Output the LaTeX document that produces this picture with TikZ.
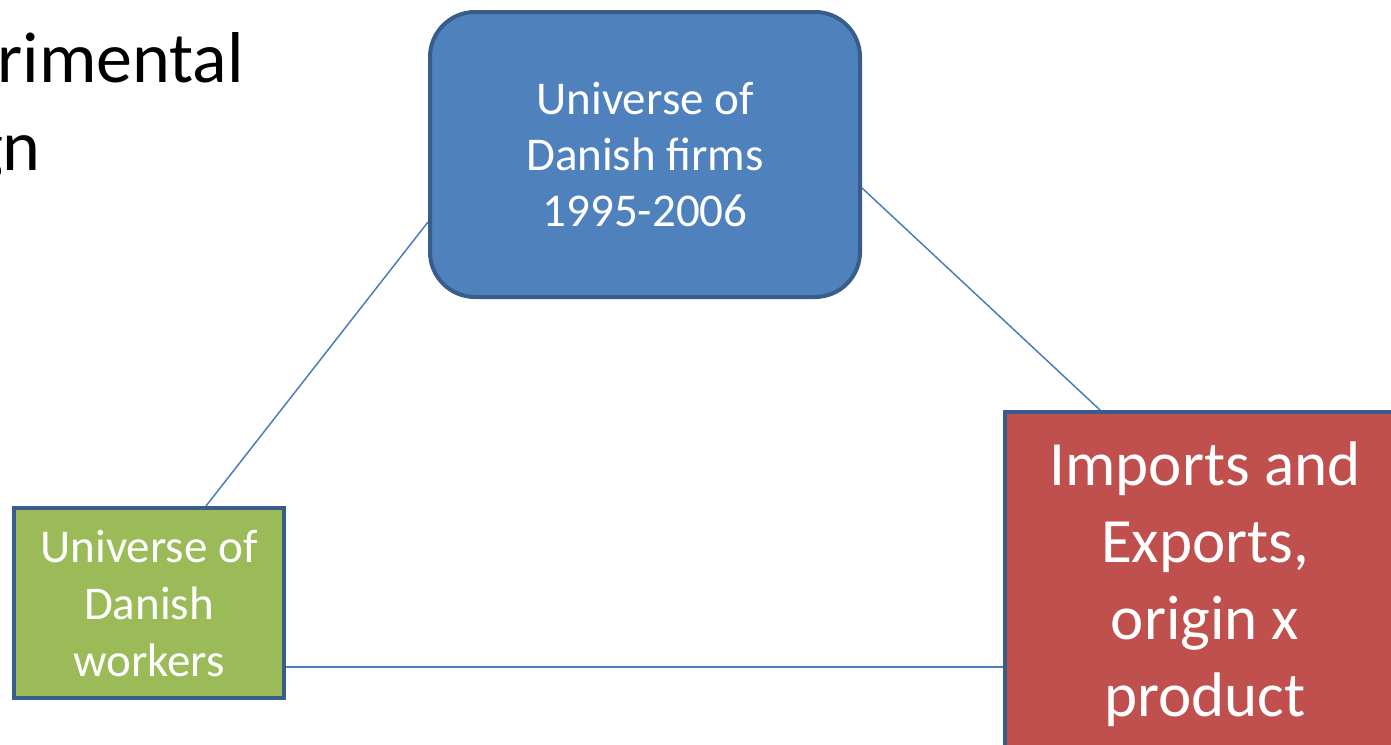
\documentclass[tikz,border=0pt]{standalone}
\usepackage{fontspec}
\setmainfont{Carlito}
\usetikzlibrary{backgrounds}
\definecolor{boxblue}{HTML}{4F81BD}
\definecolor{boxgreen}{HTML}{9BBB59}
\definecolor{boxred}{HTML}{C0504D}
\definecolor{outline}{HTML}{385D8A}
\definecolor{conn}{HTML}{4A7EBB}
\tikzset{
  shapebox/.style={draw=outline, line width=4pt, text=white, align=center, inner sep=0pt},
  connector/.style={draw=conn, line width=1.5pt},
  titletext/.style={anchor=base east, inner sep=0pt, font=\fontsize{72}{88}\selectfont}
}
\begin{document}
\begin{tikzpicture}[x=1pt,y=-1pt]
\useasboundingbox (0,0) rectangle (1391,744);
\node[titletext] (t1) at (244,82) {rimental};
\node[titletext] (t2) at (41,170) {gn};
\node[shapebox, fill=boxblue, rounded corners=45pt, minimum width=430pt, minimum height=285pt,
      font=\fontsize{47}{56}\selectfont] (firms) at (645,154.5) {Universe of\\Danish firms\\1995-2006};
\node[shapebox, fill=boxgreen, minimum width=270pt, minimum height=190pt,
      font=\fontsize{47}{57}\selectfont] (workers) at (149,603) {Universe of\\Danish\\workers};
\node[shapebox, fill=boxred, minimum width=400pt, minimum height=344pt,
      font=\fontsize{63}{77}\selectfont] (trade) at (1205,584) {Imports and\\Exports,\\origin x\\product};
\begin{scope}[on background layer]
\draw[connector] ([yshift=-67.5pt]firms.west) -- ([xshift=57pt]workers.north);
\draw[connector] ([yshift=-33.5pt]firms.east) -- ([xshift=97pt]trade.north west);
\draw[connector] ([yshift=-64pt]workers.east) -- ([yshift=-64pt]workers.east -| trade.west);
\end{scope}
\end{tikzpicture}
\end{document}
